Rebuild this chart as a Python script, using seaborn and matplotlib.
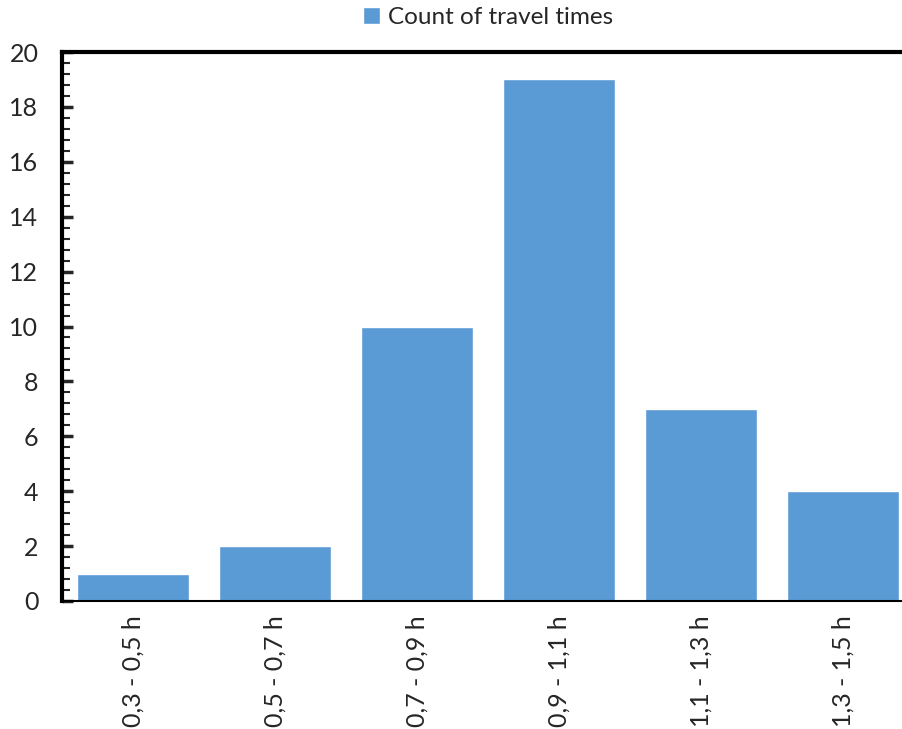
import pandas as pd
import seaborn as sns
import matplotlib.pyplot as plt
from matplotlib.ticker import MultipleLocator

bins = ['0,3 - 0,5 h', '0,5 - 0,7 h', '0,7 - 0,9 h', '0,9 - 1,1 h', '1,1 - 1,3 h', '1,3 - 1,5 h']
counts = [1, 2, 10, 19, 7, 4]

df = pd.DataFrame({'bin': bins, 'count': counts})

sns.set_theme(style="white")
plt.rcParams['font.family'] = ['Lato', 'DejaVu Sans']

fig = plt.figure(figsize=(9.02, 7.29), dpi=100)
ax = fig.add_axes([62 / 902, 128 / 729, 852 / 902, 549 / 729])

sns.barplot(data=df, x='bin', y='count', color='#5B9BD5', saturation=1,
            width=0.79, ax=ax, label='Count of travel times')

ax.set_xlim(-0.5, 5.5)
ax.set_ylim(0, 20)
ax.yaxis.set_major_locator(MultipleLocator(2))
ax.yaxis.set_minor_locator(MultipleLocator(0.4))
ax.tick_params(axis='y', which='major', direction='in', length=8, width=2.5,
               labelsize=18, pad=17, left=True)
ax.tick_params(axis='y', which='minor', direction='in', length=6, width=1.5, left=True)
ax.tick_params(axis='x', length=0, labelsize=18, pad=10)
plt.setp(ax.get_xticklabels(), rotation=90)
ax.set_xlabel('')
ax.set_ylabel('')

for s in ['left', 'top']:
    ax.spines[s].set_linewidth(3)
    ax.spines[s].set_color('black')
ax.spines['bottom'].set_linewidth(1.5)
ax.spines['bottom'].set_color('black')
ax.spines['right'].set_visible(False)

ax.legend(loc='lower center', bbox_to_anchor=(0.5, 1.0), frameon=False,
          fontsize=17.5, handlelength=0.7, handleheight=0.7, handletextpad=0.3,
          borderaxespad=0.6)

fig.savefig('out.png', dpi=100)
